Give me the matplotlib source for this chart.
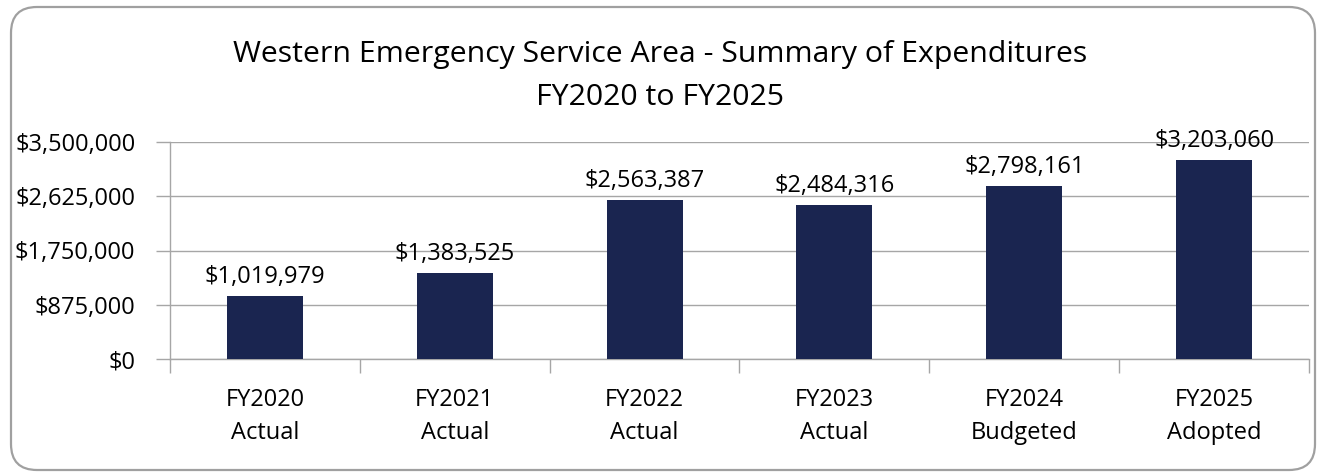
import numpy as np
import matplotlib
matplotlib.use("Agg")
import matplotlib.pyplot as plt
from matplotlib.patches import FancyBboxPatch
from matplotlib.ticker import FuncFormatter, FixedLocator

plt.rcParams['font.family'] = ['Open Sans', 'DejaVu Sans']

categories = ["FY2020\nActual", "FY2021\nActual", "FY2022\nActual",
              "FY2023\nActual", "FY2024\nBudgeted", "FY2025\nAdopted"]
expenditures = [1019979, 1383525, 2563387, 2484316, 2798161, 3203060]
y_ticks = [0, 875000, 1750000, 2625000, 3500000]
title_lines = ["Western Emergency Service Area - Summary of Expenditures", "FY2020 to FY2025"]

bar_color = "#1a2550"
grid_color = "#a6a6a6"
fs = 17

W, H = 1321, 476
fig = plt.figure(figsize=(W / 100, H / 100), dpi=100)

# background axes in pixel units, holds the rounded frame
bg = fig.add_axes([0, 0, 1, 1], zorder=-1)
bg.set_xlim(0, W)
bg.set_ylim(0, H)
bg.axis("off")
bg.add_patch(FancyBboxPatch((11, 6), 1304, 463,
                            boxstyle="round,pad=0,rounding_size=26",
                            facecolor="white", edgecolor="#a0a0a0", linewidth=1.6))

ax = fig.add_axes([170 / W, 1 - 359 / H, (1309 - 170) / W, (359 - 142) / H])
ax.set_facecolor("none")

x = np.arange(len(categories))
ax.bar(x, expenditures, width=0.4, color=bar_color, zorder=3)

for xi, v in zip(x, expenditures):
    ax.annotate("${:,.0f}".format(v), (xi, v), xytext=(0, 5), textcoords="offset points",
                ha="center", va="bottom", fontsize=fs, color="black")

ax.set_xlim(-0.5, len(categories) - 0.5)
ax.set_ylim(0, 3500000)
ax.yaxis.set_major_locator(FixedLocator(y_ticks))
ax.yaxis.set_major_formatter(FuncFormatter(lambda v, p: "${:,.0f}".format(v)))
ax.grid(axis="y", color=grid_color, linewidth=1.0, zorder=0)

ax.set_xticks(x)
ax.set_xticklabels(categories, fontsize=fs, linespacing=1.5)
ax.set_xticks(np.arange(-0.5, len(categories)), minor=True)
ax.tick_params(axis="x", which="major", length=0, pad=21)
ax.tick_params(axis="x", which="minor", length=10, color=grid_color, width=1.0)
ax.tick_params(axis="y", length=10, color=grid_color, width=1.0, labelsize=fs, pad=15)

for s in ["top", "right"]:
    ax.spines[s].set_visible(False)
for s in ["left", "bottom"]:
    ax.spines[s].set_color(grid_color)
    ax.spines[s].set_linewidth(1.0)

for line, base in zip(title_lines, [62, 105]):
    fig.text(0.5, 1 - base / H, line, ha="center", va="baseline", fontsize=21.8)

fig.savefig("out.png", dpi=100)
